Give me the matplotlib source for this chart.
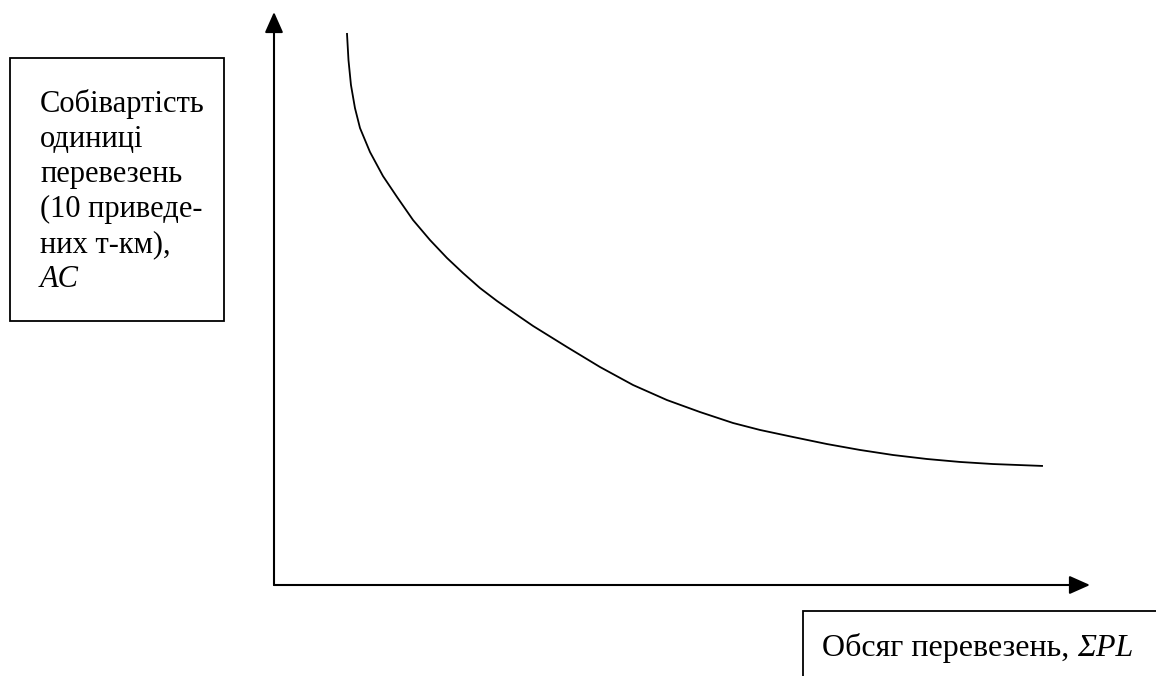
import matplotlib
matplotlib.use("Agg")
import matplotlib.pyplot as plt
from matplotlib.patches import Rectangle

# Data (arbitrary units)
volume = [9.12, 9.31, 9.62, 10.12, 10.75, 12.0, 13.62, 15.38, 17.38, 19.5, 21.62,
          23.62, 25.75, 27.88, 30.75, 32.38, 36.62, 40.75, 44.88, 49.12, 53.25,
          57.38, 60.75, 64.88, 69.12, 73.25, 77.38, 81.62, 85.75, 89.88, 96.12]
unit_cost = [69.0, 65.62, 62.5, 59.62, 57.12, 54.12, 51.12, 48.5, 45.62, 43.12, 40.88,
             39.0, 37.12, 35.5, 33.5, 32.38, 29.75, 27.25, 25.0, 23.12, 21.62,
             20.25, 19.38, 18.5, 17.62, 16.88, 16.25, 15.75, 15.38, 15.12, 14.88]
y_label_lines = ["Собівартість", "одиниці", "перевезень", "(10 приведе-", "них т-км),"]
y_label_symbol = "AC"
x_label_text = "Обсяг перевезень, "
x_label_symbol = "ΣPL"

W, H = 1156, 676
fig = plt.figure(figsize=(W / 100, H / 100), dpi=100)
fig.patch.set_facecolor("white")

ox, oy = 274, 585
x_tip, y_tip = 1090, 12
ax = fig.add_axes([ox / W, (H - oy) / H, (x_tip - ox) / W, (oy - y_tip) / H])
ax.set_xlim(0, (x_tip - ox) / 8)
ax.set_ylim(0, (oy - y_tip) / 8)
ax.axis("off")

ax.plot(volume, unit_cost, color="black", lw=1.3, solid_capstyle="butt",
        solid_joinstyle="round")

xmax = ax.get_xlim()[1]
ymax = ax.get_ylim()[1]
arrow_kw = dict(arrowstyle="-|>,head_length=0.9,head_width=0.4", color="black",
                lw=1.5, mutation_scale=14, shrinkA=0, shrinkB=0)
ax.annotate("", xy=(0, ymax), xytext=(0, 0), arrowprops=arrow_kw, annotation_clip=False)
ax.annotate("", xy=(xmax, 0), xytext=(0, 0), arrowprops=arrow_kw, annotation_clip=False)

def fx(px):
    return px / W

def fy(py):
    return 1 - py / H

font = "Liberation Serif"
fs_left = 22
fs_bottom = 23

# Left label box
fig.patches.append(Rectangle((fx(10), fy(321)), fx(224) - fx(10), fy(58) - fy(321),
                             transform=fig.transFigure, fill=False, ec="black", lw=1.3))
base0, step = 112, 35
for i, txt in enumerate(y_label_lines):
    fig.text(fx(40), fy(base0 + i * step), txt, fontsize=fs_left, family=font,
             va="baseline", ha="left")
fig.text(fx(40), fy(base0 + len(y_label_lines) * step), y_label_symbol, fontsize=fs_left,
         family=font, style="italic", va="baseline", ha="left")

# Bottom label box
fig.patches.append(Rectangle((fx(803), fy(700)), fx(1200) - fx(803), fy(611) - fy(700),
                             transform=fig.transFigure, fill=False, ec="black", lw=1.3,
                             clip_on=False))
t1 = fig.text(fx(822), fy(656), x_label_text, fontsize=fs_bottom, family=font,
              va="baseline", ha="left")
fig.canvas.draw()
bb = t1.get_window_extent()
fig.text(bb.x1 / W, fy(656), x_label_symbol, fontsize=fs_bottom, family=font,
         style="italic", va="baseline", ha="left")

fig.savefig("out.png", dpi=100, facecolor="white")
